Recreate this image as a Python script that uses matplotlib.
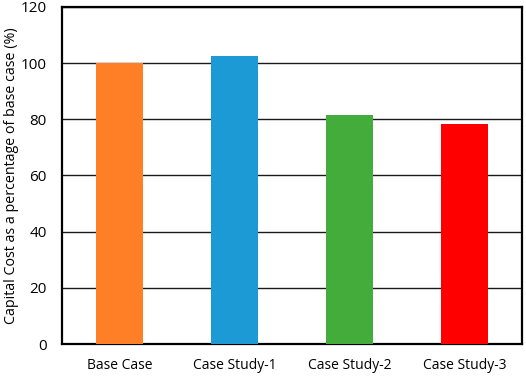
import matplotlib
matplotlib.use("Agg")
import matplotlib.pyplot as plt

categories = ["Base Case", "Case Study-1", "Case Study-2", "Case Study-3"]
values = [100.0, 102.5, 81.4, 78.3]
colors = ["#FF7F27", "#1B9AD6", "#43AC3B", "#FF0000"]
yticks = [0, 20, 40, 60, 80, 100, 120]

plt.rcParams['font.family'] = ['Open Sans', 'DejaVu Sans']

fig = plt.figure(figsize=(5.26, 3.76), dpi=100)
ax = fig.add_axes([0.1179, 0.0851, 0.8745, 0.8963])
x = range(len(categories))
ax.bar(x, values, width=0.41, color=colors, zorder=3)
ax.set_xlim(-0.5, 3.5)
ax.set_ylim(0, 120)
ax.set_yticks(yticks)
ax.set_xticks(list(x))
ax.set_xticklabels(categories, fontsize=10)
ax.tick_params(axis='y', labelsize=11, length=0, pad=11)
ax.tick_params(axis='x', length=0, pad=10)
ax.yaxis.grid(True, color='#1a1a1a', linewidth=1.0, zorder=0)
ax.set_axisbelow(True)
for s in ax.spines.values():
    s.set_linewidth(1.6)
    s.set_color('black')
ax.set_ylabel("Capital Cost as a percentage of base case (%)", fontsize=10.3, labelpad=1)
fig.savefig("out.png", dpi=100)
